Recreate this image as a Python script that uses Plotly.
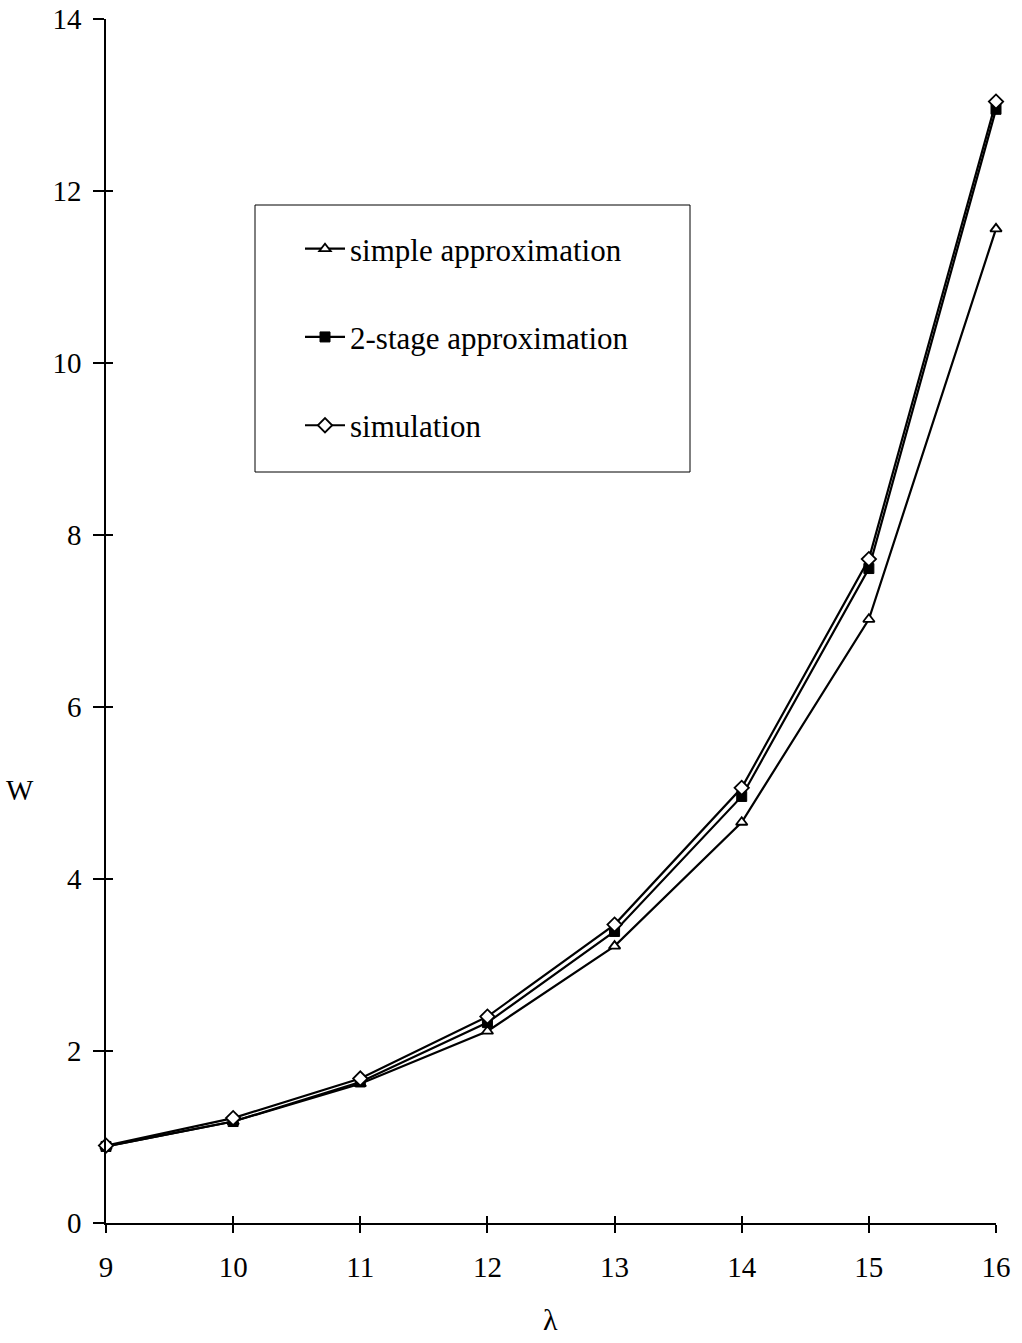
import plotly.graph_objects as go

# arrival rate and mean waiting time
lam = [9, 10, 11, 12, 13, 14, 15, 16]
w_simple = [0.89, 1.18, 1.62, 2.23, 3.22, 4.66, 7.02, 11.56]
w_two_stage = [0.89, 1.18, 1.64, 2.33, 3.39, 4.96, 7.61, 12.95]
w_simulation = [0.90, 1.22, 1.68, 2.40, 3.47, 5.06, 7.72, 13.04]

x_ticks = [9, 10, 11, 12, 13, 14, 15, 16]
y_ticks = [0, 2, 4, 6, 8, 10, 12, 14]

FONT = "Liberation Serif"
W, H = 1022, 1343
L, R, T, B = 106, 26, 19, 120

fig = go.Figure()

series = [
    ("simple approximation", w_simple,
     dict(symbol="triangle-up", size=10, color="white", line=dict(color="black", width=1.8))),
    ("2-stage approximation", w_two_stage,
     dict(symbol="square", size=10, color="black", line=dict(color="black", width=1))),
    ("simulation", w_simulation,
     dict(symbol="diamond", size=11, color="white", line=dict(color="black", width=1.8))),
]
for i, (name, ys, mk) in enumerate(series):
    fig.add_trace(go.Scatter(
        x=lam, y=ys, name=name, mode="lines+markers",
        line=dict(color="black", width=2.2), marker=mk,
        legendgroup=f"g{i}", cliponaxis=False,
    ))

# empty trace carrying the overlay axes used for the inner half of the ticks
fig.add_trace(go.Scatter(x=[], y=[], xaxis="x2", yaxis="y2", showlegend=False))

axis_font = dict(family=FONT, size=29, color="black")
common = dict(showgrid=False, zeroline=False, color="black", automargin=False)

fig.update_layout(
    width=W, height=H,
    margin=dict(l=L, r=R, t=T, b=B, autoexpand=False),
    paper_bgcolor="white", plot_bgcolor="white",
    font=dict(family=FONT, size=29, color="black"),
    xaxis=dict(range=[9, 16], tickvals=x_ticks, ticks="outside", ticklen=8, tickwidth=1.5,
               showline=True, linewidth=1.5, linecolor="black", tickfont=axis_font,
               ticklabelstandoff=9, **common),
    yaxis=dict(range=[0, 14], tickvals=y_ticks, ticks="outside", ticklen=11, tickwidth=1.5,
               showline=True, linewidth=1.5, linecolor="black", tickfont=axis_font,
               ticklabelstandoff=6, **common),
    xaxis2=dict(range=[9, 16], tickvals=x_ticks, ticks="inside", ticklen=7, tickwidth=1.5,
                overlaying="x", anchor="y2", side="bottom", showticklabels=False,
                showline=False, **common),
    yaxis2=dict(range=[0, 14], tickvals=y_ticks, ticks="inside", ticklen=7, tickwidth=1.5,
                overlaying="y", anchor="x2", side="left", showticklabels=False,
                showline=False, **common),
    showlegend=True,
    legend=dict(
        x=(300 - L) / (W - L - R), y=(1223 - 222) / (H - T - B),
        xanchor="left", yanchor="top",
        bgcolor="rgba(0,0,0,0)", borderwidth=0,
        font=dict(family=FONT, size=31, color="black"),
        traceorder="grouped", tracegroupgap=45, itemwidth=40,
    ),
    shapes=[dict(
        type="rect", xref="paper", yref="paper",
        x0=(255 - L) / (W - L - R), x1=(690 - L) / (W - L - R),
        y0=(1223 - 472) / (H - T - B), y1=(1223 - 205) / (H - T - B),
        line=dict(color="black", width=1), fillcolor="rgba(0,0,0,0)", layer="below",
    )],
    annotations=[
        dict(text="λ", xref="paper", yref="paper",
             x=(550 - L) / (W - L - R), y=(1223 - 1319) / (H - T - B),
             showarrow=False, xanchor="center", yanchor="middle",
             font=dict(family=FONT, size=30, color="black")),
        dict(text="W", xref="paper", yref="paper",
             x=(20 - L) / (W - L - R), y=(1223 - 790) / (H - T - B),
             showarrow=False, xanchor="center", yanchor="middle",
             font=dict(family=FONT, size=29, color="black")),
    ],
)

fig.write_html("out.html")
